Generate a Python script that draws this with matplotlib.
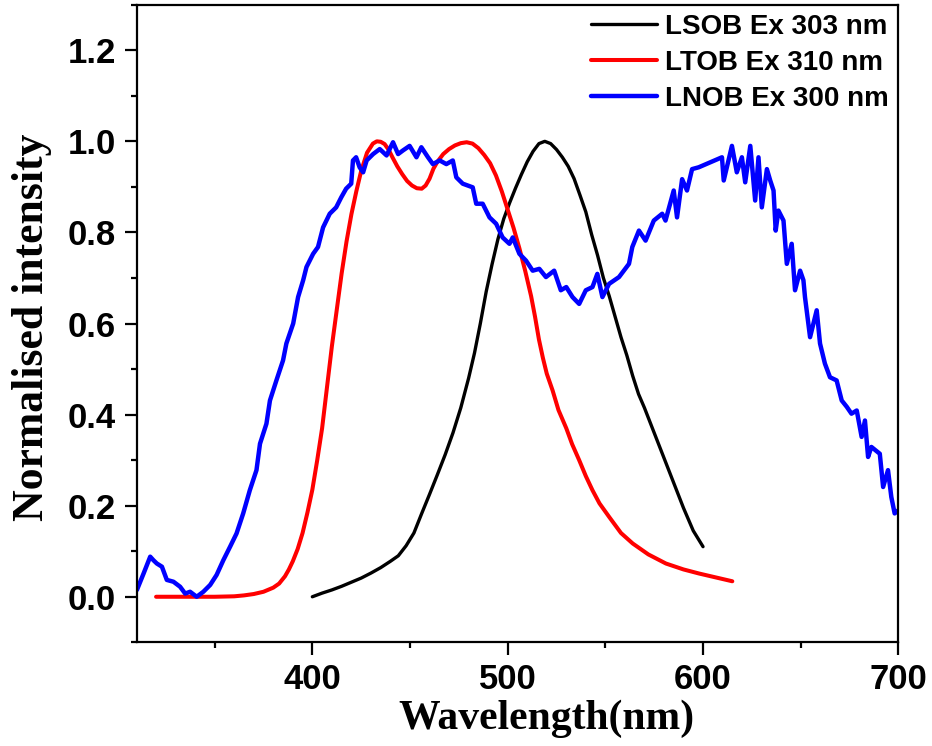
"""Normalised emission spectra of LSOB, LTOB and LNOB."""
import matplotlib
matplotlib.use("Agg")
import matplotlib.pyplot as plt
from matplotlib.ticker import MultipleLocator

# LSOB, excitation 303 nm
lsob_nm = [400, 405, 410, 415, 420, 425, 430, 435, 440, 444, 448, 452, 456, 460, 464,
           468, 472, 476, 480, 483, 486, 489, 492, 495, 498, 501, 504, 507, 510, 513,
           516, 519, 522, 525, 528, 531, 534, 537, 540, 543, 546, 549, 552, 555, 558,
           561, 564, 567, 570, 575, 580, 585, 590, 595, 600]
lsob_int = [0.0, 0.008, 0.015, 0.023, 0.032, 0.041, 0.052, 0.064, 0.078, 0.090, 0.112,
            0.140, 0.183, 0.225, 0.268, 0.312, 0.360, 0.415, 0.480, 0.535, 0.600, 0.670,
            0.730, 0.785, 0.830, 0.865, 0.897, 0.927, 0.955, 0.978, 0.995, 1.0, 0.995,
            0.982, 0.965, 0.945, 0.918, 0.882, 0.845, 0.795, 0.750, 0.700, 0.660, 0.615,
            0.570, 0.530, 0.485, 0.445, 0.415, 0.360, 0.305, 0.250, 0.195, 0.145, 0.110]

# LTOB, excitation 310 nm
ltob_nm = [320, 330, 340, 350, 360, 365, 370, 375, 380, 383, 386, 388, 390, 392.5, 395,
           397.5, 400, 402.5, 405, 407.5, 410, 412.5, 415, 417.5, 420, 422.5, 425, 428,
           431, 433, 435, 437, 439, 441, 443.5, 446, 448.5, 451, 453.5, 456, 458, 460,
           462, 464, 467, 470, 473, 476, 479, 482, 485, 488, 491, 494, 497, 500, 503,
           506, 509, 512, 514, 516, 518, 520, 523, 526, 530, 533, 536.6, 540, 543.4, 547,
           552, 558, 564, 572, 581, 590, 598, 607, 615]
ltob_int = [0.0, 0.0, 0.0, 0.0, 0.001, 0.003, 0.006, 0.011, 0.020, 0.029, 0.045, 0.060,
            0.078, 0.105, 0.140, 0.185, 0.235, 0.300, 0.370, 0.460, 0.550, 0.630, 0.710,
            0.780, 0.840, 0.890, 0.935, 0.975, 0.995, 1.0, 0.999, 0.994, 0.982, 0.965,
            0.945, 0.928, 0.913, 0.903, 0.897, 0.896, 0.903, 0.918, 0.940, 0.955, 0.972,
            0.983, 0.991, 0.996, 0.998, 0.995, 0.985, 0.970, 0.952, 0.925, 0.890, 0.850,
            0.810, 0.765, 0.715, 0.660, 0.615, 0.565, 0.525, 0.490, 0.453, 0.410, 0.370,
            0.335, 0.300, 0.265, 0.234, 0.205, 0.175, 0.140, 0.117, 0.093, 0.073, 0.060,
            0.051, 0.042, 0.034]

lnob_nm = [310.2, 313.6, 317.0, 318.7, 320.4, 323.0, 325.5, 328.9, 332.3, 334.9, 337.4,
           340.8, 344.2, 347.7, 351.0, 354.4, 357.9, 361.2, 364.6, 368.0, 371.4, 373.2,
           376.5, 378.3, 381.6, 385.0, 386.7, 390.2, 392.7, 395.3, 397.0, 400.4, 402.9,
           405.5, 408.9, 412.2, 414.8, 417.3, 419.9, 420.8, 422.4, 424.2, 426.0, 427.8,
           431.1, 434.5, 438.0, 441.3, 443.9, 446.4, 449.8, 453.3, 455.8, 459.2, 461.7,
           465.2, 468.6, 471.9, 473.7, 477.0, 482.1, 483.9, 487.2, 490.7, 494.1, 497.4,
           500.9, 502.6, 506.0, 509.4, 512.8, 516.2, 519.6, 523.8, 527.2, 530.0, 533.2,
           536.6, 540.0, 543.4, 545.9, 548.5, 551.9, 557.0, 562.1, 563.8, 567.2, 570.6,
           574.8, 579.1, 580.8, 585.0, 586.7, 589.3, 591.8, 594.4, 597.8, 609.7, 610.6,
           614.8, 617.3, 619.9, 621.6, 624.2, 626.7, 628.4, 630.1, 632.7, 634.4, 636.1,
           637.2, 638.6, 641.2, 642.9, 645.4, 647.1, 649.7, 651.4, 652.2, 654.8, 658.2,
           659.9, 662.4, 665.0, 668.4, 671.0, 673.6, 676.0, 678.7, 681.2, 682.9, 684.5,
           686.2, 690.5, 692.2, 694.7, 696.4, 698.1, 700.0]
lnob_int = [0.015, 0.051, 0.088, 0.080, 0.073, 0.066, 0.037, 0.033, 0.022, 0.007, 0.011,
            0.000, 0.011, 0.026, 0.048, 0.080, 0.110, 0.139, 0.183, 0.234, 0.278, 0.336,
            0.380, 0.431, 0.475, 0.519, 0.556, 0.600, 0.658, 0.695, 0.724, 0.753, 0.768,
            0.811, 0.841, 0.855, 0.877, 0.896, 0.907, 0.958, 0.965, 0.943, 0.932, 0.958,
            0.972, 0.983, 0.969, 0.998, 0.972, 0.980, 0.990, 0.965, 0.987, 0.965, 0.950,
            0.958, 0.950, 0.958, 0.921, 0.907, 0.899, 0.863, 0.863, 0.833, 0.819, 0.789,
            0.775, 0.789, 0.753, 0.738, 0.716, 0.720, 0.702, 0.716, 0.673, 0.680, 0.658,
            0.643, 0.673, 0.680, 0.709, 0.658, 0.687, 0.702, 0.731, 0.768, 0.804, 0.782,
            0.826, 0.841, 0.826, 0.892, 0.833, 0.917, 0.892, 0.939, 0.943, 0.965, 0.914,
            0.990, 0.932, 0.965, 0.910, 0.990, 0.870, 0.965, 0.855, 0.939, 0.914, 0.892,
            0.804, 0.848, 0.826, 0.731, 0.775, 0.673, 0.716, 0.695, 0.658, 0.570, 0.629,
            0.556, 0.512, 0.482, 0.475, 0.431, 0.417, 0.402, 0.409, 0.351, 0.387, 0.307,
            0.329, 0.314, 0.241, 0.278, 0.219, 0.183, 0.190]

LABELS = ["LSOB Ex 303 nm", "LTOB Ex 310 nm", "LNOB Ex 300 nm"]

SANS = "Liberation Sans"
SERIF = "Liberation Serif"

fig = plt.figure(figsize=(9.32, 7.46), dpi=100)
ax = fig.add_axes([0.1465, 0.139, 0.8174, 0.8547])

kw = dict(solid_capstyle="round", solid_joinstyle="round")
ax.plot(lsob_nm, lsob_int, color="black", lw=2.4, label=LABELS[0], **kw)
ax.plot(ltob_nm, ltob_int, color="#ff0000", lw=2.9, label=LABELS[1], **kw)
ax.plot(lnob_nm, lnob_int, color="#0000ff", lw=3.2, label=LABELS[2], **kw)

ax.set_xlim(310, 700)
ax.set_ylim(-0.1, 1.3)
ax.set_xticks([400, 500, 600, 700])
ax.set_yticks([0.0, 0.2, 0.4, 0.6, 0.8, 1.0, 1.2])
ax.xaxis.set_minor_locator(MultipleLocator(50))
ax.yaxis.set_minor_locator(MultipleLocator(0.1))

for s in ax.spines.values():
    s.set_linewidth(1.6)
ax.tick_params(which="major", direction="out", length=9, width=1.6, pad=6)
ax.tick_params(which="minor", direction="out", length=4.5, width=1.6)
for lab in ax.get_xticklabels() + ax.get_yticklabels():
    lab.set_fontfamily(SANS)
    lab.set_fontweight("bold")
    lab.set_fontsize(25)

ax.set_xlabel("Wavelength(nm)", fontfamily=SERIF, fontweight="bold", fontsize=30)
ax.set_ylabel("Normalised intensity", fontfamily=SERIF, fontweight="bold", fontsize=31.5)
ax.xaxis.set_label_coords(0.5375, -0.09)
ax.yaxis.set_label_coords(-0.111, 0.4945)

ax.legend(loc="upper right", bbox_to_anchor=(0.987, 0.986), frameon=False,
          borderaxespad=0, borderpad=0, handlelength=2.4, handletextpad=0.26,
          labelspacing=0.37, prop={"family": SANS, "weight": "bold", "size": 20})

fig.savefig("out.png", dpi=100)
